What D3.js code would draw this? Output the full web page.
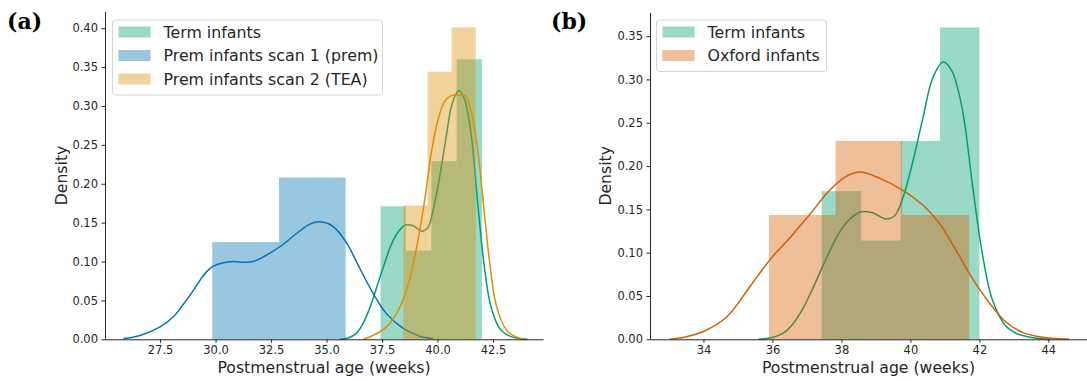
<!DOCTYPE html>
<html>
<head>
<meta charset="utf-8">
<script src="https://cdn.jsdelivr.net/npm/d3@7"></script>
<style>
	body { margin: 0; background: #fff; }
	svg { display: block; font-family: 'DejaVu Sans', sans-serif; }
	.tick line, .domain { stroke: #262626; }
</style>
</head>
<body>
<script>
// histogram bins (edges in weeks) and densities
const termEdges = [37.43, 38.57, 39.72, 40.86, 42.0];
const termDens = [0.171, 0.114, 0.229, 0.36];
const prem1Edges = [29.85, 32.86, 35.86];
const prem1Dens = [0.125, 0.208];
const prem2Edges = [38.46, 39.55, 40.63, 41.72];
const prem2Dens = [0.172, 0.344, 0.401];
const oxfordEdges = [35.9, 37.83, 39.76, 41.7];
const oxfordDens = [0.1435, 0.229, 0.1435];

// KDE curves: [weeks, density]
const termKde = [[35.59,0],[36.0,0.002],[36.31,0.007],[36.6,0.018],[36.89,0.036],[37.15,0.057],[37.42,0.081],
	[37.7,0.105],[37.95,0.124],[38.25,0.139],[38.55,0.147],[38.9,0.146],[39.3,0.139],[39.55,0.143],[39.78,0.163],
	[40.07,0.205],[40.36,0.255],[40.65,0.302],[40.95,0.32],[41.2,0.31],[41.4,0.285],[41.56,0.253],[41.8,0.178],
	[42.08,0.1],[42.38,0.045],[42.77,0.015],[43.06,0.007],[43.5,0.002],[44.05,0]];
const prem1Kde = [[25.85,0.001],[26.6,0.005],[27.5,0.016],[28.1,0.029],[28.55,0.045],[29.0,0.063],[29.3,0.076],
	[29.6,0.087],[29.9,0.094],[30.3,0.098],[30.8,0.1],[31.3,0.099],[31.7,0.1],[32.15,0.106],[32.9,0.119],[33.65,0.136],
	[34.25,0.148],[34.7,0.151],[35.3,0.145],[35.9,0.124],[36.5,0.091],[37.1,0.059],[37.7,0.033],[38.45,0.014],
	[39.2,0.004],[39.8,0.001]];
const prem2Kde = [[36.66,0],[37.1,0.005],[37.7,0.016],[38.15,0.033],[38.6,0.063],[39.0,0.11],[39.4,0.175],
	[39.72,0.24],[40.0,0.28],[40.3,0.305],[40.6,0.313],[40.95,0.314],[41.25,0.313],[41.5,0.295],[41.8,0.245],
	[42.05,0.179],[42.35,0.098],[42.65,0.043],[43.1,0.012],[43.55,0.003],[43.9,0]];
const oxfordKde = [[33.02,0],[33.5,0.003],[34.0,0.009],[34.68,0.026],[35.35,0.061],[35.93,0.092],[36.5,0.117],
	[37.08,0.144],[37.66,0.172],[38.14,0.188],[38.55,0.193],[39.1,0.186],[39.78,0.172],[40.36,0.155],[40.84,0.134],
	[41.32,0.103],[41.8,0.07],[42.29,0.042],[42.77,0.02],[43.25,0.008],[43.73,0.003],[44.6,0]];

const leftXTicks = [27.5, 30, 32.5, 35, 37.5, 40, 42.5];
const leftYTicks = [0, 0.05, 0.1, 0.15, 0.2, 0.25, 0.3, 0.35, 0.4];
const rightXTicks = [34, 36, 38, 40, 42, 44];
const rightYTicks = [0, 0.05, 0.1, 0.15, 0.2, 0.25, 0.3, 0.35];

const GREEN = '#029e73', BLUE = '#0173b2', ORANGE = '#de8f05', RED = '#d55e00';

let svg = d3.select('body').append('svg')
	.attr('width', 1087)
	.attr('height', 381);

function drawPanel(opts) {
	let x = d3.scaleLinear().domain(opts.xDomain).range(opts.xRange);
	let y = d3.scaleLinear().domain(opts.yDomain).range(opts.yRange);
	let g = svg.append('g');

	opts.series.forEach(s => {
		let bins = s.dens.map((d, i) => ({x0: s.edges[i], x1: s.edges[i + 1], d: d}));
		g.append('g').selectAll('rect')
			.data(bins)
			.enter()
			.append('rect')
			.attr('x', b => x(b.x0))
			.attr('y', b => y(b.d))
			.attr('width', b => x(b.x1) - x(b.x0))
			.attr('height', b => y(0) - y(b.d))
			.attr('fill', s.color)
			.attr('fill-opacity', 0.4);
		g.append('path')
			.datum(s.kde)
			.attr('fill', 'none')
			.attr('stroke', s.color)
			.attr('stroke-width', 1.5)
			.attr('d', d3.line()
				.x(p => x(p[0]))
				.y(p => Math.min(y(p[1]), y(0)))
				.curve(d3.curveCatmullRom.alpha(0.5)));
	});

	let xAxis = g.append('g')
		.attr('transform', `translate(0, ${opts.yRange[0]})`)
		.call(d3.axisBottom(x).tickValues(opts.xTicks).tickFormat(opts.xFormat).tickSize(3.5).tickPadding(3.5).tickSizeOuter(0));
	let yAxis = g.append('g')
		.attr('transform', `translate(${opts.xRange[0]}, 0)`)
		.call(d3.axisLeft(y).tickValues(opts.yTicks).tickFormat(d3.format('.2f')).tickSize(3.5).tickPadding(3.5).tickSizeOuter(0));
	[xAxis, yAxis].forEach(a => a
		.attr('font-family', 'DejaVu Sans, sans-serif')
		.attr('font-size', 11.5)
		.selectAll('.tick text')
		.attr('fill', '#262626'));

	g.append('text')
		.attr('x', (opts.xRange[0] + opts.xRange[1]) / 2)
		.attr('y', 368)
		.attr('dy', '0.35em')
		.attr('text-anchor', 'middle')
		.attr('font-size', 15.7)
		.attr('fill', '#262626')
		.text('Postmenstrual age (weeks)');

	g.append('text')
		.attr('transform', `translate(${opts.yLabelX}, ${(opts.yRange[0] + opts.yRange[1]) / 2}) rotate(-90)`)
		.attr('dy', '0.35em')
		.attr('text-anchor', 'middle')
		.attr('font-size', 15.7)
		.attr('fill', '#262626')
		.text('Density');

	g.append('text')
		.attr('x', opts.tagX)
		.attr('y', 29)
		.attr('font-family', 'DejaVu Serif, serif')
		.attr('font-weight', 'bold')
		.attr('font-size', 22)
		.text(opts.tag);

	// legend
	let lg = g.append('g')
		.attr('transform', `translate(${opts.legend.x}, ${opts.legend.y})`);
	lg.append('rect')
		.attr('width', opts.legend.w)
		.attr('height', opts.series.length * 23.5 + 4.5)
		.attr('rx', 3)
		.attr('fill', 'white')
		.attr('fill-opacity', 0.8)
		.attr('stroke', '#d4d4d4');
	let items = lg.selectAll('g.item')
		.data(opts.series)
		.enter()
		.append('g')
		.attr('class', 'item')
		.attr('transform', (s, i) => `translate(0, ${12 + i * 23.5})`);
	items.append('rect')
		.attr('x', 6)
		.attr('y', -5.5)
		.attr('width', 32)
		.attr('height', 11)
		.attr('fill', s => s.color)
		.attr('fill-opacity', 0.4);
	items.append('text')
		.attr('x', 51)
		.attr('dy', '0.35em')
		.attr('font-size', 15.8)
		.attr('fill', '#262626')
		.text(s => s.name);
}

drawPanel({
	xDomain: [25.02, 44.75], xRange: [105, 543],
	yDomain: [0, 0.4212], yRange: [339.3, 11.7],
	xTicks: leftXTicks, yTicks: leftYTicks, xFormat: d3.format('.1f'),
	yLabelX: 61, tag: '(a)', tagX: 7,
	legend: {x: 112.5, y: 20, w: 270},
	series: [
		{name: 'Term infants', color: GREEN, edges: termEdges, dens: termDens, kde: termKde},
		{name: 'Prem infants scan 1 (prem)', color: BLUE, edges: prem1Edges, dens: prem1Dens, kde: prem1Kde},
		{name: 'Prem infants scan 2 (TEA)', color: ORANGE, edges: prem2Edges, dens: prem2Dens, kde: prem2Kde}
	]
});

drawPanel({
	xDomain: [32.45, 45.12], xRange: [650, 1087],
	yDomain: [0, 0.3775], yRange: [339.3, 12.3],
	xTicks: rightXTicks, yTicks: rightYTicks, xFormat: d3.format('d'),
	yLabelX: 605, tag: '(b)', tagX: 551,
	legend: {x: 656.5, y: 20, w: 170},
	series: [
		{name: 'Term infants', color: GREEN, edges: termEdges, dens: termDens, kde: termKde},
		{name: 'Oxford infants', color: RED, edges: oxfordEdges, dens: oxfordDens, kde: oxfordKde}
	]
});
</script>
</body>
</html>
